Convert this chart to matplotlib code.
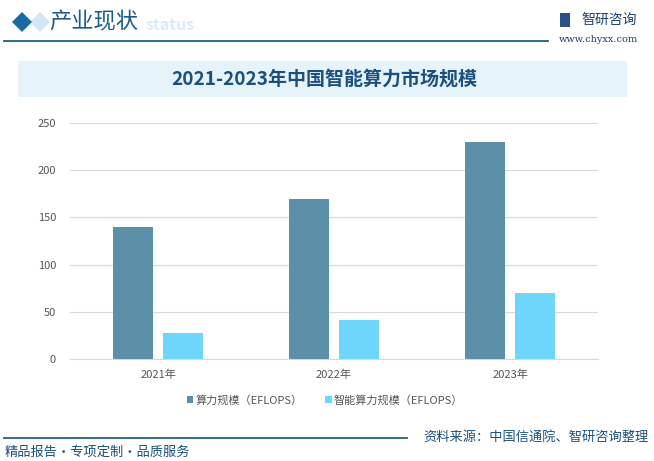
import matplotlib
matplotlib.use("Agg")
import matplotlib.pyplot as plt
import numpy as np
from matplotlib.patches import Rectangle, Polygon
from matplotlib.lines import Line2D

plt.rcParams['font.family'] = ['Noto Sans CJK SC', 'DejaVu Sans']

categories = ["2021年", "2022年", "2023年"]
series_names = ["算力规模（EFLOPS）", "智能算力规模（EFLOPS）"]
compute = [140, 170, 230]
ai_compute = [28, 41, 70]
yticks = [0, 50, 100, 150, 200, 250]
title = "2021-2023年中国智能算力市场规模"
source = "资料来源：中国信通院、智研咨询整理"
slogan = "精品报告·专项定制·品质服务"

W, H = 654, 461
fig = plt.figure(figsize=(W/100, H/100), dpi=100)

def fx(px): return px / W
def fy(py): return 1 - py / H

dark = "#5b90a8"
light = "#6dd6fa"
navy = "#1b5a8a"

# Header
fig.patches.append(Polygon([[fx(30), fy(22)], [fx(40), fy(12)], [fx(50), fy(22)], [fx(40), fy(32)]],
                           closed=True, transform=fig.transFigure, facecolor="#d3e6f4", edgecolor="none"))
fig.patches.append(Polygon([[fx(12), fy(22)], [fx(22), fy(12)], [fx(32), fy(22)], [fx(22), fy(32)]],
                           closed=True, transform=fig.transFigure, facecolor="#1a6aa8", edgecolor="none"))
fig.text(fx(146), fy(25), "status", fontsize=11.5, color="#dcebf7", weight="bold",
         va="center", ha="left", zorder=0)
fig.text(fx(49), fy(22), "产业现状", fontsize=16, color=navy, va="center", ha="left")
fig.add_artist(Line2D([fx(4), fx(548)], [fy(41), fy(41)], transform=fig.transFigure, color="#1f5f86", lw=1.3))
fig.patches.append(Rectangle((fx(560), fy(27)), 10/W, 14/H, transform=fig.transFigure, facecolor="#2a4f8a", edgecolor="none"))
fig.text(fx(609), fy(20), "智研咨询", fontsize=10, color="#1a3f6e", va="center", ha="center")
fig.text(fx(598), fy(40), "www.chyxx.com", fontsize=7, color="#1a3f6e", va="center", ha="center", family="DejaVu Serif")

# Title band
fig.patches.append(Rectangle((fx(18), fy(97)), 609/W, 36/H, transform=fig.transFigure,
                             facecolor="#e6f3fb", edgecolor="none"))
fig.text(fx(324), fy(79), title, fontsize=13.7, color="#1a4f7e", weight="bold", va="center", ha="center")

# Axes
ax = fig.add_axes([fx(70), fy(359), 528/W, (359-123)/H])
x = np.arange(len(categories))
bw = 0.227
off = 0.142
ax.bar(x - off, compute, width=bw, color=dark, label=series_names[0], zorder=3)
ax.bar(x + off, ai_compute, width=bw, color=light, label=series_names[1], zorder=3)
ax.set_xlim(-0.5, 2.5)
ax.set_ylim(0, 250)
ax.set_yticks(yticks)
ax.yaxis.grid(True, color="#d9d9d9", lw=0.8, zorder=0)
for s in ["top", "right", "left"]:
    ax.spines[s].set_visible(False)
ax.spines["bottom"].set_color("#d9d9d9")
ax.set_xticks(x)
ax.set_xticklabels(categories)
ax.tick_params(axis="both", length=0, labelsize=8, labelcolor="#555555")
ax.tick_params(axis="x", pad=8)
ax.tick_params(axis="y", pad=10)
ax.patch.set_alpha(0)

leg = fig.legend(loc="center", bbox_to_anchor=(fx(325), fy(400)), ncol=2, frameon=False,
                 fontsize=8, handlelength=0.6, handleheight=0.6, handletextpad=0.2, columnspacing=2.0)
for t in leg.get_texts():
    t.set_color("#555555")

# Footer
fig.add_artist(Line2D([fx(4), fx(407)], [fy(438), fy(438)], transform=fig.transFigure, color="#1f5f86", lw=1.3))
fig.text(fx(649), fy(437), source, fontsize=9.5, color="#1a4f7e", va="center", ha="right")
fig.text(fx(5), fy(452), slogan, fontsize=9.5, color="#1a4f7e", va="center", ha="left")

fig.savefig("out.png", dpi=100)
